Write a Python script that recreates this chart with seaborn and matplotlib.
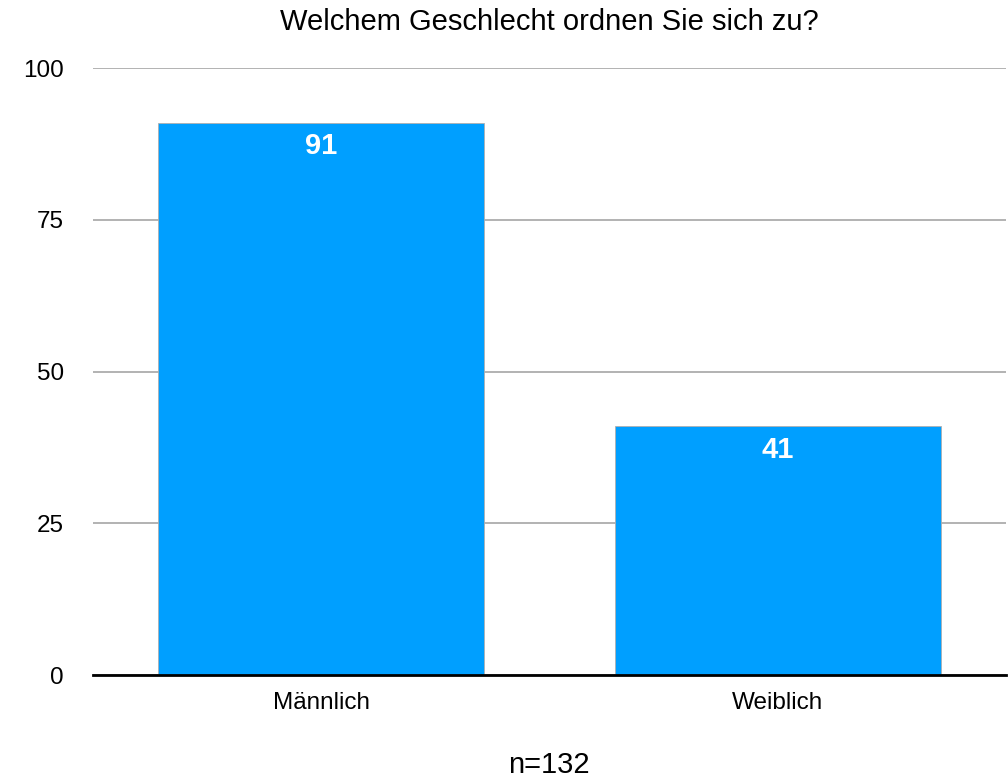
import matplotlib
matplotlib.use("Agg")
import pandas as pd
import seaborn as sns
import matplotlib.pyplot as plt

# data
categories = ["Männlich", "Weiblich"]
counts = [91, 41]
title = "Welchem Geschlecht ordnen Sie sich zu?"
note = "n=132"

df = pd.DataFrame({"gender": categories, "count": counts})

sns.set_style("white")
plt.rcParams['font.family'] = ['Liberation Sans', 'DejaVu Sans']

fig = plt.figure(figsize=(10.08, 7.8), dpi=100)
ax = fig.add_axes([0.0923, 0.1346, 0.9057, 0.7782])

sns.barplot(data=df, x="gender", y="count", color="#009FFF", saturation=1,
            width=0.715, edgecolor="#b0b0b0", linewidth=0.6, ax=ax, zorder=3)

ax.set_ylim(0, 100)
ax.set_xlim(-0.5, 1.5)
ax.set_yticks([0, 25, 50, 75, 100])
ax.yaxis.grid(True, color="#a6a6a6", linewidth=1.2, zorder=0)
ax.set_axisbelow(True)
for s in ["top", "right", "left"]:
    ax.spines[s].set_visible(False)
ax.spines["bottom"].set_color("black")
ax.spines["bottom"].set_linewidth(2)
ax.spines["bottom"].set_zorder(5)
ax.tick_params(axis="both", length=0, labelsize=17.5, labelcolor="black")
ax.tick_params(axis="y", pad=21)
ax.tick_params(axis="x", pad=12)
ax.set_xlabel("")
ax.set_ylabel("")

for p, v in zip(ax.patches, counts):
    ax.text(p.get_x() + p.get_width() / 2, v - 1.6, str(v), ha="center", va="top",
            color="white", fontsize=21, fontweight="bold", zorder=6)

fig.text(0.545, 0.972, title, ha="center", va="center", fontsize=21, color="black")
fig.text(0.545, 0.019, note, ha="center", va="center", fontsize=21, color="black")

plt.savefig("out.png", dpi=100)
plt.close()
